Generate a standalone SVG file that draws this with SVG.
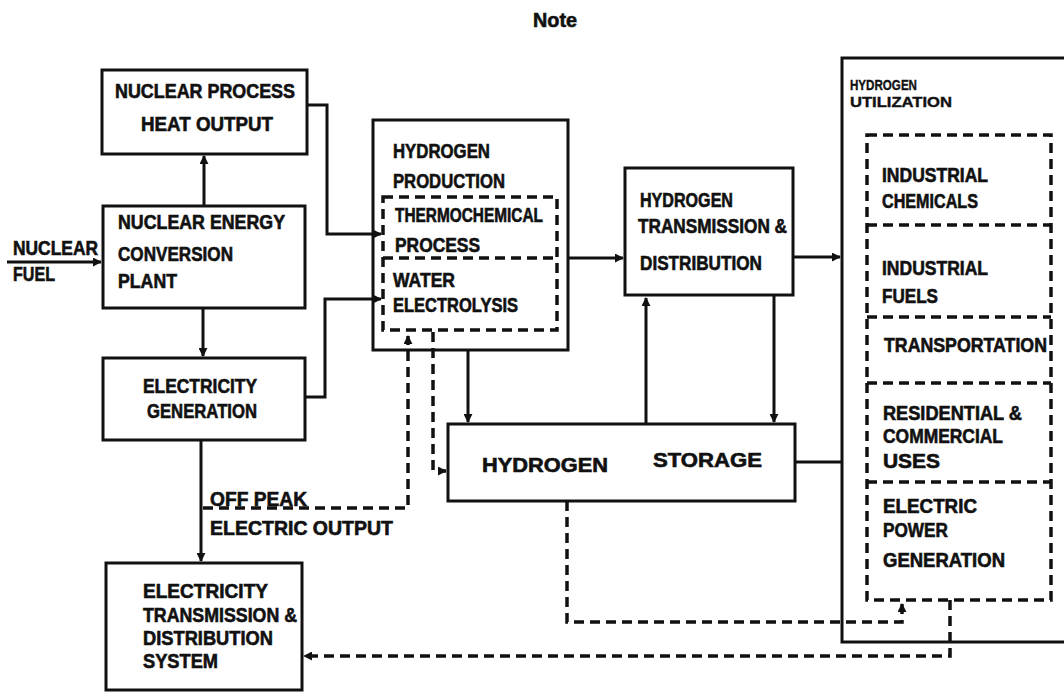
<svg xmlns="http://www.w3.org/2000/svg" width="1064" height="695" viewBox="0 0 1064 695">
<style>
.bx{fill:none;stroke:#111;stroke-width:3}
.ln{fill:none;stroke:#111;stroke-width:3}
.ds{fill:none;stroke:#111;stroke-width:3.5;stroke-dasharray:10 6}
.t{font-family:"Liberation Sans",Arial,sans-serif;font-weight:bold;font-size:19.5px;fill:#111;stroke:#111;stroke-width:0.6}
.s{font-size:15px;stroke-width:0.4}
</style>
<defs>
<marker id="ah" viewBox="0 0 10 10" refX="9" refY="5" markerWidth="9" markerHeight="9" markerUnits="userSpaceOnUse" orient="auto">
<path d="M0,0 L10,5 L0,10 z" fill="#111"/>
</marker>
</defs>
<rect width="1064" height="695" fill="#fff"/>
<text class="t" x="533" y="27" textLength="44" lengthAdjust="spacingAndGlyphs">Note</text>

<g id="connectors">
<path class="ln" d="M204,206 V156" marker-end="url(#ah)"/>
<path class="ln" d="M203,308 V356" marker-end="url(#ah)"/>
<path class="ln" d="M7,262 H101" marker-end="url(#ah)"/>
<path class="ln" d="M307,105 H327 V234 H381" marker-end="url(#ah)"/>
<path class="ln" d="M305,397 H325 V299 H381" marker-end="url(#ah)"/>
<path class="ln" d="M201,440 V561" marker-end="url(#ah)"/>
<path class="ds" d="M203,508 H408 V336" marker-end="url(#ah)"/>
<path class="ds" d="M433,332 V471 H446" marker-end="url(#ah)"/>
<path class="ln" d="M468,350 V422" marker-end="url(#ah)"/>
<path class="ln" d="M568,258 H623" marker-end="url(#ah)"/>
<path class="ln" d="M646,424 V298" marker-end="url(#ah)"/>
<path class="ln" d="M774,295 V422" marker-end="url(#ah)"/>
<path class="ln" d="M793,257 H840" marker-end="url(#ah)"/>
<path class="ln" d="M795,462 H842"/>
<path class="ds" d="M567,501 V622 H902 V604" marker-end="url(#ah)"/>
<path class="ds" d="M950,600 V656 H304" marker-end="url(#ah)"/>
</g>

<g id="nuclear-fuel">
<text class="t" x="13" y="255" textLength="85" lengthAdjust="spacingAndGlyphs">NUCLEAR</text>
<text class="t" x="13" y="281" textLength="42" lengthAdjust="spacingAndGlyphs">FUEL</text>
</g>

<g id="process-heat">
<rect class="bx" x="102" y="70" width="205" height="84"/>
<text class="t" x="115" y="98" textLength="180" lengthAdjust="spacingAndGlyphs">NUCLEAR PROCESS</text>
<text class="t" x="141" y="131" textLength="132" lengthAdjust="spacingAndGlyphs">HEAT OUTPUT</text>
</g>

<g id="conversion-plant">
<rect class="bx" x="103" y="206" width="202" height="102"/>
<text class="t" x="118" y="229" textLength="167" lengthAdjust="spacingAndGlyphs">NUCLEAR ENERGY</text>
<text class="t" x="118" y="261" textLength="115" lengthAdjust="spacingAndGlyphs">CONVERSION</text>
<text class="t" x="118" y="288" textLength="59" lengthAdjust="spacingAndGlyphs">PLANT</text>
</g>

<g id="electricity-generation">
<rect class="bx" x="103" y="358" width="202" height="82"/>
<text class="t" x="143" y="393" textLength="114" lengthAdjust="spacingAndGlyphs">ELECTRICITY</text>
<text class="t" x="147" y="418" textLength="110" lengthAdjust="spacingAndGlyphs">GENERATION</text>
</g>

<g id="off-peak">
<text class="t" x="210" y="506" textLength="97" lengthAdjust="spacingAndGlyphs">OFF PEAK</text>
<text class="t" x="210" y="535" textLength="183" lengthAdjust="spacingAndGlyphs">ELECTRIC OUTPUT</text>
</g>

<g id="electricity-transmission">
<rect class="bx" x="106" y="563" width="196" height="127"/>
<text class="t" x="143" y="598" textLength="125" lengthAdjust="spacingAndGlyphs">ELECTRICITY</text>
<text class="t" x="143" y="622" textLength="154" lengthAdjust="spacingAndGlyphs">TRANSMISSION &amp;</text>
<text class="t" x="143" y="645" textLength="130" lengthAdjust="spacingAndGlyphs">DISTRIBUTION</text>
<text class="t" x="143" y="668" textLength="75" lengthAdjust="spacingAndGlyphs">SYSTEM</text>
</g>

<g id="hydrogen-production">
<rect class="bx" x="373" y="120" width="195" height="230"/>
<text class="t" x="393" y="158" textLength="97" lengthAdjust="spacingAndGlyphs">HYDROGEN</text>
<text class="t" x="393" y="188" textLength="112" lengthAdjust="spacingAndGlyphs">PRODUCTION</text>
<path class="ds" d="M383,197 H557 V330 H383 Z M383,258 H557"/>
<text class="t" x="395" y="222" textLength="148" lengthAdjust="spacingAndGlyphs">THERMOCHEMICAL</text>
<text class="t" x="395" y="252" textLength="85" lengthAdjust="spacingAndGlyphs">PROCESS</text>
<text class="t" x="393" y="287" textLength="62" lengthAdjust="spacingAndGlyphs">WATER</text>
<text class="t" x="393" y="312" textLength="125" lengthAdjust="spacingAndGlyphs">ELECTROLYSIS</text>
</g>

<g id="hydrogen-transmission">
<rect class="bx" x="625" y="168" width="168" height="127"/>
<text class="t" x="640" y="207" textLength="93" lengthAdjust="spacingAndGlyphs">HYDROGEN</text>
<text class="t" x="638" y="233" textLength="149" lengthAdjust="spacingAndGlyphs">TRANSMISSION &amp;</text>
<text class="t" x="640" y="270" textLength="122" lengthAdjust="spacingAndGlyphs">DISTRIBUTION</text>
</g>

<g id="hydrogen-storage">
<rect class="bx" x="448" y="424" width="347" height="77"/>
<text class="t" x="482" y="472" textLength="126" lengthAdjust="spacingAndGlyphs">HYDROGEN</text>
<text class="t" x="653" y="467" textLength="109" lengthAdjust="spacingAndGlyphs">STORAGE</text>
</g>

<g id="hydrogen-utilization">
<path class="bx" d="M1070,58 H842 V642 H1070"/>
<text class="t s" x="850" y="90" textLength="67" lengthAdjust="spacingAndGlyphs">HYDROGEN</text>
<text class="t s" x="850" y="107" textLength="102" lengthAdjust="spacingAndGlyphs">UTILIZATION</text>
<path class="ds" d="M867,135 H1051 V600 H867 Z M867,225 H1051 M867,317 H1051 M867,383 H1051 M867,482 H1051"/>
<text class="t" x="882" y="182" textLength="106" lengthAdjust="spacingAndGlyphs">INDUSTRIAL</text>
<text class="t" x="882" y="208" textLength="96" lengthAdjust="spacingAndGlyphs">CHEMICALS</text>
<text class="t" x="882" y="275" textLength="106" lengthAdjust="spacingAndGlyphs">INDUSTRIAL</text>
<text class="t" x="882" y="303" textLength="56" lengthAdjust="spacingAndGlyphs">FUELS</text>
<text class="t" x="884" y="352" textLength="163" lengthAdjust="spacingAndGlyphs">TRANSPORTATION</text>
<text class="t" x="883" y="420" textLength="139" lengthAdjust="spacingAndGlyphs">RESIDENTIAL &amp;</text>
<text class="t" x="883" y="443" textLength="120" lengthAdjust="spacingAndGlyphs">COMMERCIAL</text>
<text class="t" x="883" y="468" textLength="57" lengthAdjust="spacingAndGlyphs">USES</text>
<text class="t" x="883" y="513" textLength="94" lengthAdjust="spacingAndGlyphs">ELECTRIC</text>
<text class="t" x="883" y="537" textLength="65" lengthAdjust="spacingAndGlyphs">POWER</text>
<text class="t" x="883" y="567" textLength="122" lengthAdjust="spacingAndGlyphs">GENERATION</text>
</g>
</svg>
